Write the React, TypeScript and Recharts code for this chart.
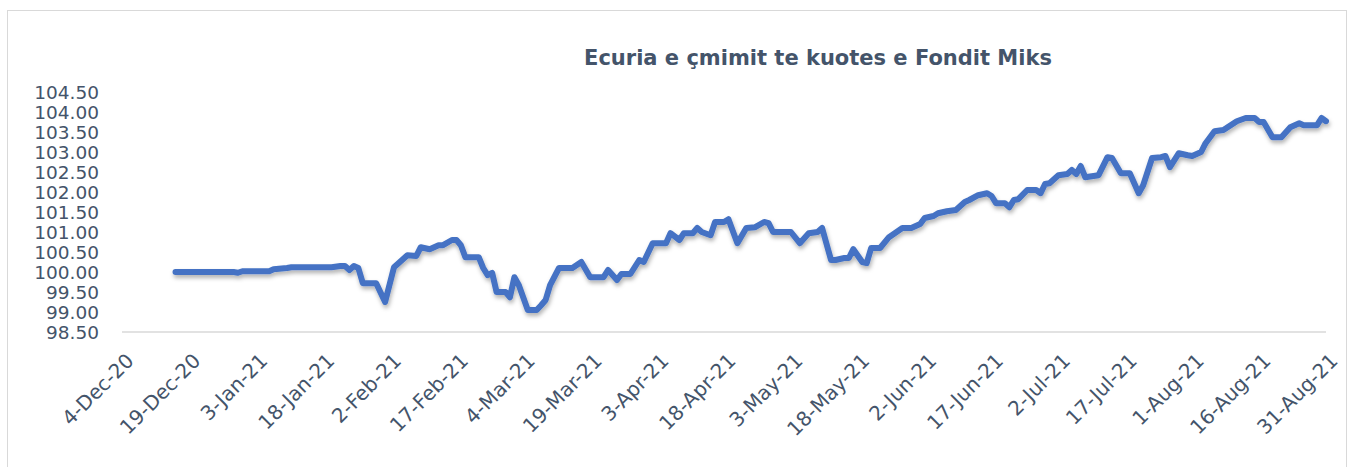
import { LineChart, Line, XAxis, YAxis } from "recharts";

const dates = [
  "2020-12-16", "2020-12-29", "2020-12-30", "2020-12-31", "2021-01-06", "2021-01-07",
  "2021-01-10", "2021-01-11", "2021-01-20", "2021-01-22", "2021-01-23", "2021-01-24",
  "2021-01-25", "2021-01-26", "2021-01-27", "2021-01-30", "2021-02-01", "2021-02-03",
  "2021-02-04", "2021-02-06", "2021-02-08", "2021-02-09", "2021-02-11", "2021-02-13",
  "2021-02-14", "2021-02-16", "2021-02-17", "2021-02-18", "2021-02-19", "2021-02-22",
  "2021-02-23", "2021-02-24", "2021-02-25", "2021-02-26", "2021-02-28", "2021-03-01",
  "2021-03-02", "2021-03-03", "2021-03-05", "2021-03-07", "2021-03-08", "2021-03-09",
  "2021-03-10", "2021-03-12", "2021-03-15", "2021-03-17", "2021-03-19", "2021-03-22",
  "2021-03-23", "2021-03-25", "2021-03-26", "2021-03-28", "2021-03-30", "2021-03-31",
  "2021-04-02", "2021-04-05", "2021-04-06", "2021-04-08", "2021-04-09", "2021-04-11",
  "2021-04-12", "2021-04-13", "2021-04-15", "2021-04-16", "2021-04-18", "2021-04-19",
  "2021-04-21", "2021-04-23", "2021-04-25", "2021-04-27", "2021-04-28", "2021-04-29",
  "2021-05-03", "2021-05-05", "2021-05-07", "2021-05-09", "2021-05-10", "2021-05-12",
  "2021-05-13", "2021-05-15", "2021-05-16", "2021-05-17", "2021-05-19", "2021-05-20",
  "2021-05-21", "2021-05-23", "2021-05-25", "2021-05-28", "2021-05-30", "2021-06-01",
  "2021-06-02", "2021-06-04", "2021-06-05", "2021-06-07", "2021-06-09", "2021-06-11",
  "2021-06-12", "2021-06-14", "2021-06-16", "2021-06-17", "2021-06-18", "2021-06-20",
  "2021-06-21", "2021-06-22", "2021-06-23", "2021-06-25", "2021-06-27", "2021-06-28",
  "2021-06-29", "2021-06-30", "2021-07-02", "2021-07-04", "2021-07-05", "2021-07-06",
  "2021-07-07", "2021-07-08", "2021-07-11", "2021-07-13", "2021-07-14", "2021-07-16",
  "2021-07-18", "2021-07-20", "2021-07-21", "2021-07-23", "2021-07-25", "2021-07-26",
  "2021-07-27", "2021-07-29", "2021-07-31", "2021-08-01", "2021-08-03", "2021-08-04",
  "2021-08-06", "2021-08-08", "2021-08-11", "2021-08-13", "2021-08-15", "2021-08-16",
  "2021-08-17", "2021-08-19", "2021-08-21", "2021-08-23", "2021-08-25", "2021-08-26",
  "2021-08-29", "2021-08-30", "2021-08-31",
];

const prices = [
  100.0, 100.0, 99.98, 100.02, 100.02, 100.07,
  100.1, 100.12, 100.12, 100.15, 100.15, 100.05,
  100.15, 100.1, 99.72, 99.72, 99.25, 100.12,
  100.22, 100.42, 100.4, 100.62, 100.57, 100.67,
  100.67, 100.8, 100.8, 100.67, 100.37, 100.37,
  100.1, 99.92, 99.98, 99.5, 99.5, 99.37,
  99.87, 99.67, 99.05, 99.05, 99.17, 99.3,
  99.67, 100.1, 100.1, 100.25, 99.87, 99.87,
  100.05, 99.8, 99.95, 99.95, 100.3, 100.25,
  100.72, 100.72, 100.97, 100.8, 100.97, 100.97,
  101.1, 101.0, 100.92, 101.25, 101.25, 101.32,
  100.72, 101.1, 101.12, 101.25, 101.22, 101.0,
  101.0, 100.72, 100.97, 101.0, 101.1, 100.3,
  100.3, 100.35, 100.35, 100.57, 100.25, 100.22,
  100.6, 100.6, 100.87, 101.1, 101.1, 101.2,
  101.35, 101.4, 101.47, 101.52, 101.55, 101.75,
  101.8, 101.92, 101.97, 101.9, 101.72, 101.72,
  101.62, 101.8, 101.82, 102.05, 102.05, 101.97,
  102.2, 102.22, 102.42, 102.45, 102.55, 102.45,
  102.65, 102.37, 102.42, 102.87, 102.85, 102.47,
  102.47, 101.97, 102.17, 102.85, 102.87, 102.9,
  102.62, 102.97, 102.92, 102.9, 103.0, 103.22,
  103.52, 103.55, 103.77, 103.85, 103.85, 103.75,
  103.75, 103.37, 103.37, 103.62, 103.72, 103.67,
  103.67, 103.85, 103.77,
];

const xTickDates = [
  "2020-12-04", "2020-12-19", "2021-01-03", "2021-01-18", "2021-02-02",
  "2021-02-17", "2021-03-04", "2021-03-19", "2021-04-03", "2021-04-18",
  "2021-05-03", "2021-05-18", "2021-06-02", "2021-06-17", "2021-07-02",
  "2021-07-17", "2021-08-01", "2021-08-16", "2021-08-31",
];

const yTicks = [98.5, 99, 99.5, 100, 100.5, 101, 101.5, 102, 102.5, 103, 103.5, 104, 104.5];

const MONTHS = ["Jan", "Feb", "Mar", "Apr", "May", "Jun", "Jul", "Aug", "Sep", "Oct", "Nov", "Dec"];
const TEXT = "#44546A";
const FONT = "'DejaVu Sans', sans-serif";

const toTs = (s: string) => Date.UTC(+s.slice(0, 4), +s.slice(5, 7) - 1, +s.slice(8, 10));

const fmtDate = (ts: number) => {
  const d = new Date(ts);
  return `${d.getUTCDate()}-${MONTHS[d.getUTCMonth()]}-${String(d.getUTCFullYear()).slice(2)}`;
};

const data = dates.map((d, i) => ({ t: toTs(d), price: prices[i] }));
const xTicks = xTickDates.map(toTs);

// rotated date labels, end of text sits just under the tick
const XTick = ({ x, y, payload }: any) => {
  const ax = x + 13;
  const ay = y + 30;
  return (
    <text
      x={ax}
      y={ay}
      transform={`rotate(-45, ${ax}, ${ay})`}
      textAnchor="end"
      fill={TEXT}
      fontSize={20}
      fontFamily={FONT}
    >
      {fmtDate(payload.value)}
    </text>
  );
};

const YTick = ({ y, payload }: any) => (
  <text x={99} y={y} dy={7} textAnchor="end" fill={TEXT} fontSize={18.5} fontFamily={FONT}>
    {payload.value.toFixed(2)}
  </text>
);

export default function App() {
  return (
    <div style={{ position: "fixed", left: 0, top: 0, width: 1349, height: 467, background: "#fff" }}>
      <div
        style={{
          position: "absolute",
          left: 7,
          top: 10,
          width: 1340,
          height: 460,
          border: "1.5px solid #D9D9D9",
          boxSizing: "border-box",
        }}
      />
      <div
        style={{
          position: "absolute",
          left: 518,
          top: 44,
          width: 600,
          textAlign: "center",
          fontFamily: FONT,
          fontWeight: "bold",
          fontSize: 21,
          color: TEXT,
          lineHeight: "28px",
        }}
      >
        Ecuria e çmimit te kuotes e Fondit Miks
      </div>
      <div style={{ position: "absolute", left: 0, top: 0 }}>
        <LineChart width={1349} height={467} data={data} margin={{ top: 92, right: 23, bottom: 35, left: 62 }}>
          <defs>
            <filter id="lineShadow" x="-5%" y="-20%" width="110%" height="140%">
              <feDropShadow dx="1" dy="3" stdDeviation="2" floodColor="#000" floodOpacity="0.3" />
            </filter>
          </defs>
          <XAxis
            dataKey="t"
            type="number"
            scale="time"
            domain={[xTicks[0], xTicks[xTicks.length - 1]]}
            ticks={xTicks}
            interval={0}
            height={100}
            tickLine={false}
            tickSize={0}
            tickMargin={0}
            axisLine={{ stroke: "#D9D9D9", strokeWidth: 1.5 }}
            tick={<XTick />}
          />
          <YAxis
            type="number"
            domain={[98.5, 104.5]}
            ticks={yTicks}
            interval={0}
            width={60}
            axisLine={false}
            tickLine={false}
            tick={<YTick />}
          />
          <Line
            dataKey="price"
            type="linear"
            stroke="#4472C4"
            strokeWidth={6}
            strokeLinejoin="round"
            strokeLinecap="round"
            dot={false}
            activeDot={false}
            filter="url(#lineShadow)"
            isAnimationActive={false}
          />
        </LineChart>
      </div>
    </div>
  );
}
